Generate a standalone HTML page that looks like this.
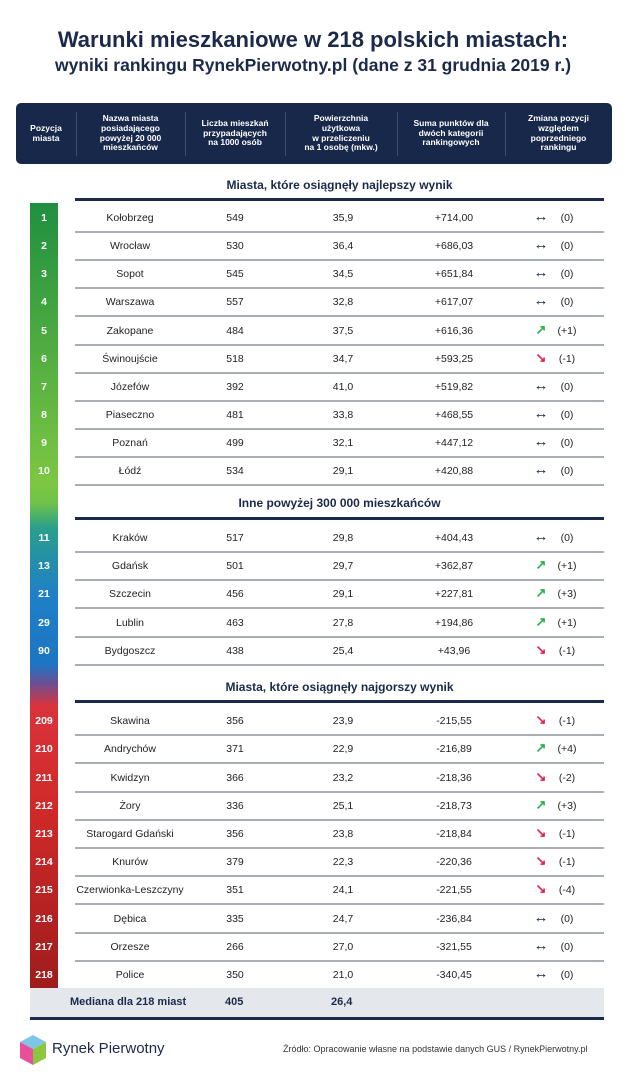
<!DOCTYPE html>
<html><head><meta charset="utf-8"><style>
body{margin:0;width:626px;height:1080px;background:#fff;font-family:"Liberation Sans",sans-serif;position:relative;overflow:hidden;color:#1b2340}
.a{position:absolute}
.t{position:absolute;left:0;width:626px;text-align:center;font-weight:bold;color:#1b2a4a}
.hd{position:absolute;left:16px;top:103px;width:596px;height:61px;background:#17284b;border-radius:5px}
.hc{position:absolute;top:0;height:61px;display:flex;align-items:center;justify-content:center;text-align:center;color:#fff;font-size:8.5px;font-weight:bold;line-height:9.8px}
.hs{position:absolute;top:9px;width:1px;height:44px;background:#3b4d72}
.sec{position:absolute;left:75px;width:529px;text-align:center;font-weight:bold;font-size:12px;color:#1b2a4a}
.bl{position:absolute;left:75px;width:529px;height:2.5px;background:#1b2a4a}
.r{position:absolute;left:0;width:626px;height:20px;font-size:10.5px;color:#222}
.r span{position:absolute;top:5px;transform:translateX(-50%);white-space:nowrap}
.r .n{left:44px;color:#fff;font-weight:bold;font-size:10.5px}
.ln{position:absolute;left:75px;width:529px;height:1.5px;background:#a9adb4}
.up{color:#2bb24c}.dn{color:#e0234e}
</style></head><body>
<div class="t" style="top:27px;font-size:22px">Warunki mieszkaniowe w 218 polskich miastach:</div>
<div class="t" style="top:55px;font-size:17.5px">wyniki rankingu RynekPierwotny.pl (dane z 31 grudnia 2019 r.)</div>
<div class="hd">
<div class="hc" style="left:0;width:60px">Pozycja<br>miasta</div>
<div class="hs" style="left:60px"></div>
<div class="hc" style="left:60px;width:109px">Nazwa miasta<br>posiadającego<br>powyżej 20 000<br>mieszkańców</div>
<div class="hs" style="left:169px"></div>
<div class="hc" style="left:169px;width:100px">Liczba mieszkań<br>przypadających<br>na 1000 osób</div>
<div class="hs" style="left:269px"></div>
<div class="hc" style="left:269px;width:112px">Powierzchnia<br>użytkowa<br>w przeliczeniu<br>na 1 osobę (mkw.)</div>
<div class="hs" style="left:381px"></div>
<div class="hc" style="left:381px;width:108px">Suma punktów dla<br>dwóch kategorii<br>rankingowych</div>
<div class="hs" style="left:489px"></div>
<div class="hc" style="left:489px;width:107px">Zmiana pozycji<br>względem<br>poprzedniego<br>rankingu</div>
</div>
<div class="a" style="left:30px;top:203px;width:28px;height:785px;background:linear-gradient(to bottom,#1f8f40 0px,#7dc742 281px,#6fc24a 300px,#2a9f8c 325px,#1f80c6 390px,#1d75c4 461px,#6a4f95 480px,#d9343c 503px,#d22a2a 600px,#a01c1c 785px)"></div>
<div class="sec" style="top:178px">Miasta, które osiągnęły najlepszy wynik</div>
<div class="bl" style="top:198px"></div>
<div class="sec" style="top:496px">Inne powyżej 300 000 mieszkańców</div>
<div class="bl" style="top:517px"></div>
<div class="sec" style="top:680px">Miasta, które osiągnęły najgorszy wynik</div>
<div class="bl" style="top:700px"></div>
<div id="rows"></div>
<div class="a" style="left:30px;top:988px;width:574px;height:30px;background:#e4e7ec"></div>
<div class="a" style="left:30px;top:1017px;width:574px;height:2.5px;background:#1b2a4a"></div>
<div class="a" style="left:70px;top:996px;font-weight:bold;font-size:11px;color:#1b2a4a">Mediana dla 218 miast</div>
<div class="a" style="left:225px;top:996px;font-weight:bold;font-size:11px;color:#1b2a4a">405</div>
<div class="a" style="left:331px;top:996px;font-weight:bold;font-size:11px;color:#1b2a4a">26,4</div>
<svg class="a" style="left:18px;top:1033px" width="30" height="34" viewBox="0 0 30 34"><polygon points="15,2 28,9 15,16 2,9" fill="#7ec6e8"/><polygon points="2,9 15,16 15,32 2,25" fill="#e94e9b"/><polygon points="15,16 28,9 28,25 15,32" fill="#8cc63f"/></svg>
<div class="a" style="left:52px;top:1040px;font-size:15px;color:#1b2a4a">Rynek Pierwotny</div>
<div class="a" style="left:283px;top:1044px;font-size:9px;color:#333;white-space:nowrap">Źródło: Opracowanie własne na podstawie danych GUS / RynekPierwotny.pl</div>
<script>
var d=[
[217,"1","Kołobrzeg","549","35,9","+714,00",0,"(0)"],
[245,"2","Wrocław","530","36,4","+686,03",0,"(0)"],
[273,"3","Sopot","545","34,5","+651,84",0,"(0)"],
[301,"4","Warszawa","557","32,8","+617,07",0,"(0)"],
[330,"5","Zakopane","484","37,5","+616,36",1,"(+1)"],
[358,"6","Świnoujście","518","34,7","+593,25",-1,"(-1)"],
[386,"7","Józefów","392","41,0","+519,82",0,"(0)"],
[414,"8","Piaseczno","481","33,8","+468,55",0,"(0)"],
[442,"9","Poznań","499","32,1","+447,12",0,"(0)"],
[470,"10","Łódź","534","29,1","+420,88",0,"(0)"],
[537,"11","Kraków","517","29,8","+404,43",0,"(0)"],
[565,"13","Gdańsk","501","29,7","+362,87",1,"(+1)"],
[593,"21","Szczecin","456","29,1","+227,81",1,"(+3)"],
[622,"29","Lublin","463","27,8","+194,86",1,"(+1)"],
[650,"90","Bydgoszcz","438","25,4","+43,96",-1,"(-1)"],
[720,"209","Skawina","356","23,9","-215,55",-1,"(-1)"],
[748,"210","Andrychów","371","22,9","-216,89",1,"(+4)"],
[777,"211","Kwidzyn","366","23,2","-218,36",-1,"(-2)"],
[805,"212","Żory","336","25,1","-218,73",1,"(+3)"],
[833,"213","Starogard Gdański","356","23,8","-218,84",-1,"(-1)"],
[861,"214","Knurów","379","22,3","-220,36",-1,"(-1)"],
[889,"215","Czerwionka-Leszczyny","351","24,1","-221,55",-1,"(-4)"],
[918,"216","Dębica","335","24,7","-236,84",0,"(0)"],
[946,"217","Orzesze","266","27,0","-321,55",0,"(0)"],
[974,"218","Police","350","21,0","-340,45",0,"(0)"]];
var h="";
d.forEach(function(r){var y=r[0]-10;
var ar=r[6]==0?'<span style="left:541px;font-size:15px;top:1px;font-weight:bold;color:#1b2a4a">↔</span>':(r[6]>0?'<span class="up" style="left:541px;font-size:13px;top:2px;font-weight:bold">↗</span>':'<span class="dn" style="left:541px;font-size:13px;top:2px;font-weight:bold">↘</span>');
h+='<div class="r" style="top:'+y+'px"><span class="n">'+r[1]+'</span><span style="left:130px">'+r[2]+'</span><span style="left:235px">'+r[3]+'</span><span style="left:343px">'+r[4]+'</span><span style="left:454px">'+r[5]+'</span>'+ar+'<span style="left:567px">'+r[7]+'</span></div>';
if(r[0]!=974)h+='<div class="ln" style="top:'+(r[0]+14)+'px"></div>';
});
document.getElementById("rows").innerHTML=h;
</script>
</body></html>
